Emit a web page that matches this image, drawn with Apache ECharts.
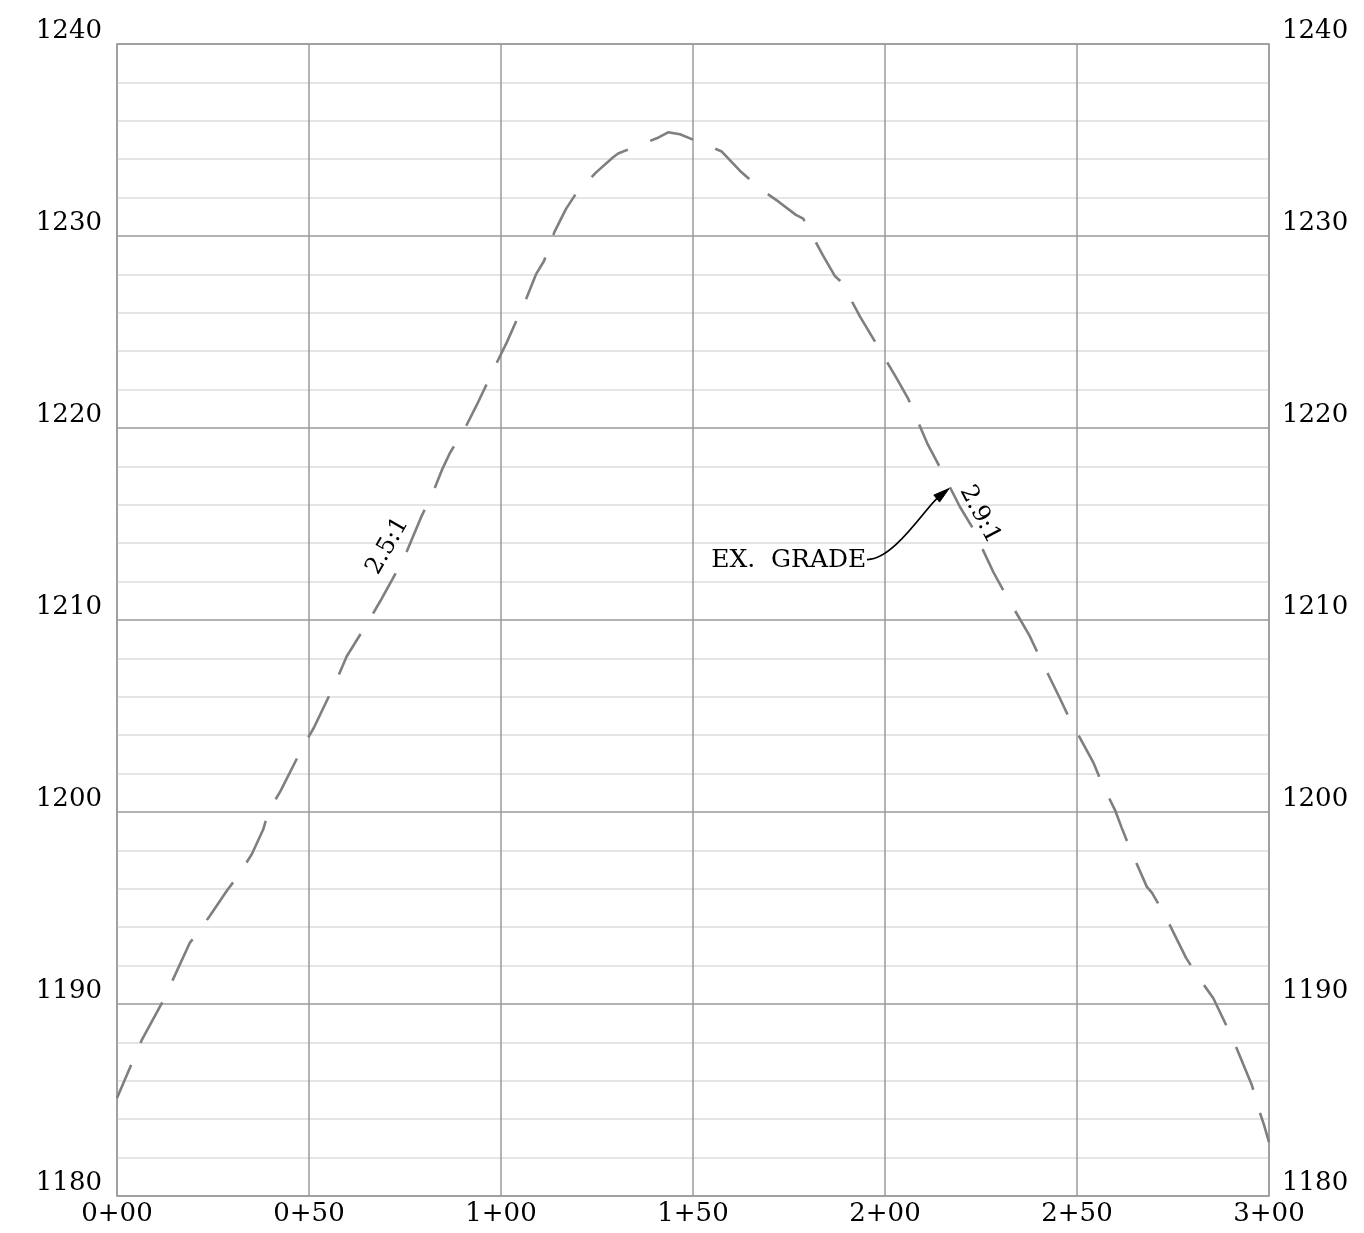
<!DOCTYPE html>
<html><head><meta charset="utf-8">
<script src="https://cdn.jsdelivr.net/npm/echarts@6/dist/echarts.min.js"></script>
<style>html,body{margin:0;padding:0;background:#fff}#c{width:1364px;height:1233px}</style>
</head><body><div id="c"></div>
<script>
// Station (ft from 0+00) and existing-grade elevation
const stations = [0, 6.4, 12.1, 19.0, 20.9, 24.2, 28.6, 31.6, 35.1, 38.1, 39.4, 42.6, 48.4, 51.3, 56.8, 59.8, 65.7, 68.9, 74.7, 77.2, 79.3, 82.4, 84.8, 86.7, 90.9, 93.7, 98.9, 101.6, 106.7, 109.1, 111.2, 113.9, 116.9, 119.5, 124.7, 129.2, 130.5, 140.7, 143.5, 146.6, 157.5, 162.2, 167.9, 172.2, 176.8, 178.7, 183.8, 187.0, 188.7, 193.5, 196.5, 203.0, 206.1, 211.0, 213.9, 219.5, 222.8, 228.2, 231.2, 237.6, 240.2, 245.6, 248.2, 254.2, 256.7, 259.9, 261.6, 264.0, 268.2, 269.5, 272.7, 278.4, 281.6, 285.5, 287.9, 290.5, 295.5, 297.2, 298.7, 300];
const elevations = [1185.1, 1188.1, 1190.2, 1193.2, 1193.65, 1194.6, 1195.9, 1196.7, 1197.8, 1199.1, 1200.0, 1201.1, 1203.4, 1204.4, 1206.7, 1208.1, 1210.0, 1211.1, 1213.2, 1214.4, 1215.4, 1216.7, 1217.9, 1218.7, 1220.1, 1221.2, 1223.4, 1224.5, 1226.8, 1228.0, 1228.7, 1230.2, 1231.4, 1232.2, 1233.3, 1234.1, 1234.3, 1235.1, 1235.4, 1235.3, 1234.4, 1233.4, 1232.4, 1231.8, 1231.1, 1230.9, 1229.0, 1227.9, 1227.6, 1225.8, 1224.8, 1222.6, 1221.5, 1219.2, 1218.1, 1215.9, 1214.8, 1212.5, 1211.4, 1209.2, 1208.1, 1205.9, 1204.8, 1202.6, 1201.4, 1200.1, 1199.2, 1198.0, 1196.1, 1195.8, 1194.7, 1192.4, 1191.4, 1190.3, 1189.3, 1188.2, 1185.8, 1184.6, 1183.7, 1182.8];
const xTickLabels = ['0+00', '0+50', '1+00', '1+50', '2+00', '2+50', '3+00'];
const yMin = 1180, yMax = 1240, yStep = 10;
const xMin = 0, xMax = 300, xStep = 50;
const leftSlopeLabel = '2.5:1';
const rightSlopeLabel = '2.9:1';
const gradeLabel = 'EX.  GRADE';

const FONT = '"DejaVu Serif", serif';
const chart = echarts.init(document.getElementById('c'), null, {renderer: 'canvas'});
const lineData = stations.map((s, i) => [s, elevations[i]]);

const yAxisCommon = {
  type: 'value', min: yMin, max: yMax, interval: yStep,
  axisLine: {show: false}, axisTick: {show: false},
  minorTick: {show: false, splitNumber: 5},
};

chart.setOption({
  animation: false,
  backgroundColor: '#fff',
  grid: {left: 117, right: 95, top: 44, bottom: 37, show: true, borderColor: '#9a9a9a', borderWidth: 1.5},
  xAxis: {
    type: 'value', min: xMin, max: xMax, interval: xStep,
    axisLine: {show: false}, axisTick: {show: false},
    axisLabel: {color: '#000', fontFamily: FONT, fontSize: 26, margin: 5,
      formatter: v => xTickLabels[Math.round((v - xMin) / xStep)]},
    splitLine: {show: true, lineStyle: {color: '#9a9a9a', width: 1.5}}
  },
  yAxis: [
    Object.assign({}, yAxisCommon, {
      position: 'left',
      axisLabel: {color: '#000', fontFamily: FONT, fontSize: 26, margin: 15, verticalAlign: 'bottom', lineHeight: 26,
        formatter: v => String(v)},
      splitLine: {show: true, lineStyle: {color: '#9a9a9a', width: 1.5}},
      minorSplitLine: {show: true, lineStyle: {color: '#dddddd', width: 1.5}}
    }),
    Object.assign({}, yAxisCommon, {
      position: 'right',
      axisLabel: {color: '#000', fontFamily: FONT, fontSize: 26, margin: 13, verticalAlign: 'bottom', lineHeight: 26,
        formatter: v => String(v)},
      splitLine: {show: false}
    })
  ],
  series: [{
    type: 'line', data: lineData, symbol: 'none', smooth: false,
    lineStyle: {color: '#7f7f7f', width: 2.6, type: [46, 24], dashOffset: 10},
    z: 5
  }]
});

// Annotations anchored in data space
function px(s, e) { return chart.convertToPixel({gridIndex: 0}, [s, e]); }
const tip = px(216.7, 1216.85);
const start = px(195.3, 1213.15);
const textPos = px(155, 1213.07);
const lbl1 = px(70.5, 1213.85);
const lbl2 = px(224.7, 1215.5);
const dir = [0.776, -0.631];
const perp = [0.631, 0.776];
const L = 16, W = 4.5;
const base = [tip[0] - L * dir[0], tip[1] - L * dir[1]];

chart.setOption({
  graphic: [
    {type: 'text', left: textPos[0] - 1, top: textPos[1] - 13, z: 10,
      style: {text: gradeLabel, font: '25px ' + FONT, fill: '#000', textVerticalAlign: 'top'}},
    {type: 'bezierCurve', z: 10,
      shape: {x1: start[0], y1: start[1], cpx1: start[0] + 26, cpy1: start[1] + 1,
              cpx2: tip[0] - 24, cpy2: tip[1] + 20, x2: base[0] + 1.5 * dir[0], y2: base[1] + 1.5 * dir[1]},
      style: {stroke: '#000', lineWidth: 1.7, fill: null}},
    {type: 'polygon', z: 11,
      shape: {points: [tip, [base[0] + W * perp[0], base[1] + W * perp[1]], [base[0] - W * perp[0], base[1] - W * perp[1]]]},
      style: {fill: '#000', stroke: '#000', lineWidth: 1}},
    {type: 'text', x: lbl1[0], y: lbl1[1], rotation: 60 * Math.PI / 180, z: 10,
      style: {text: leftSlopeLabel, font: '24px ' + FONT, fill: '#000', align: 'center', verticalAlign: 'middle'}},
    {type: 'text', x: lbl2[0], y: lbl2[1], rotation: -62 * Math.PI / 180, z: 10,
      style: {text: rightSlopeLabel, font: '24px ' + FONT, fill: '#000', align: 'center', verticalAlign: 'middle'}}
  ]
});
</script>
</body></html>
